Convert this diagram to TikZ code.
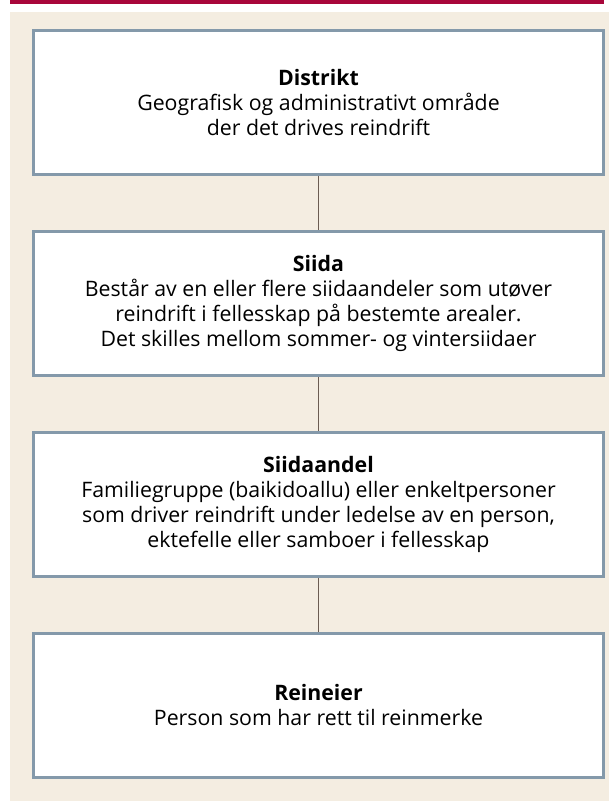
\documentclass[tikz,border=0pt]{standalone}
\usepackage{fontspec}
\setmainfont{Open Sans}

\definecolor{toppfarge}{HTML}{A8063A}
\definecolor{bakgrunn}{HTML}{F4EDE1}
\definecolor{boksramme}{HTML}{8499AA}
\definecolor{linjefarge}{HTML}{6B5C52}

\begin{document}
\begin{tikzpicture}[x=1pt,y=-1pt,
    boks/.style={draw=boksramme, line width=3pt, fill=white,
        minimum width=570pt, minimum height=144pt, inner sep=0pt,
        align=center, font=\fontsize{21.3}{24.7}\selectfont},
    linje/.style={draw=linjefarge, line width=1.2pt}]
    % Bakgrunn
    \useasboundingbox (0,0) rectangle (609,801);
    \fill[toppfarge] (10,0) rectangle (604,4);
    \fill[bakgrunn] (10,12) rectangle (609,801);

    % Bokser
    \node[boks] (distrikt) at (318.5,102.5)
        {\textbf{Distrikt}\\Geografisk og administrativt område\\der det drives reindrift};
    \node[boks] (siida) at (318.5,303.5)
        {\textbf{Siida}\\Består av en eller flere siidaandeler som utøver\\reindrift i fellesskap på bestemte arealer.\\Det skilles mellom sommer- og vintersiidaer};
    \node[boks] (siidaandel) at (318.5,504.5)
        {\textbf{Siidaandel}\\Familiegruppe (baikidoallu) eller enkeltpersoner\\som driver reindrift under ledelse av en person,\\ektefelle eller samboer i fellesskap};
    \node[boks] (reineier) at (318.5,705)
        {\textbf{Reineier}\\Person som har rett til reinmerke};

    % Linjer
    \draw[linje] (distrikt) -- (siida);
    \draw[linje] (siida) -- (siidaandel);
    \draw[linje] (siidaandel) -- (reineier);
\end{tikzpicture}
\end{document}
